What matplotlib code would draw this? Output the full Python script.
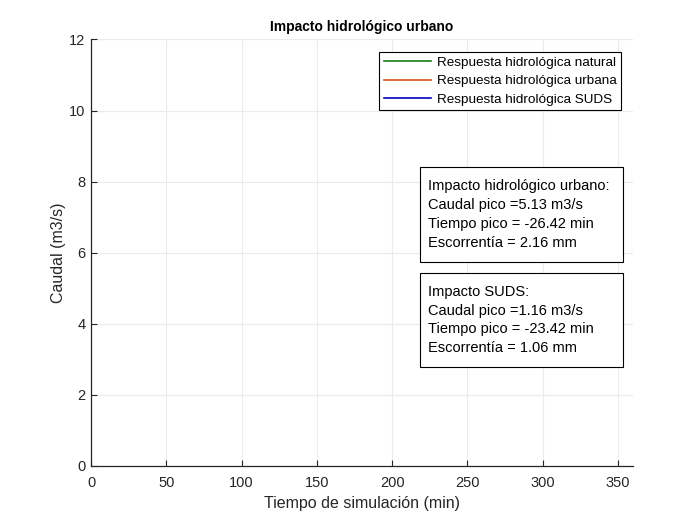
import matplotlib
matplotlib.use("Agg")
import matplotlib.pyplot as plt
from matplotlib.patches import Rectangle

plt.rcParams['font.family'] = ['Liberation Sans', 'DejaVu Sans']

title = "Impacto hidrológico urbano"
xlabel = "Tiempo de simulación (min)"
ylabel = "Caudal (m3/s)"
series_names = ["Respuesta hidrológica natural", "Respuesta hidrológica urbana", "Respuesta hidrológica SUDS"]
series_colors = ["#1a7a1a", "#D95319", "#0000CC"]
xticks = [0, 50, 100, 150, 200, 250, 300, 350]
yticks = [0, 2, 4, 6, 8, 10, 12]
box1_lines = ["Impacto hidrológico urbano:", "Caudal pico =5.13 m3/s",
              "Tiempo pico = -26.42 min", "Escorrentía = 2.16 mm"]
box2_lines = ["Impacto SUDS:", "Caudal pico =1.16 m3/s",
              "Tiempo pico = -23.42 min", "Escorrentía = 1.06 mm"]

fig = plt.figure(figsize=(7, 5.25), dpi=100)
ax = fig.add_axes([0.13, 0.1124, 0.7743, 0.8124])

for name, c in zip(series_names, series_colors):
    ax.plot([], [], color=c, lw=1.2, label=name)

ax.set_xlim(0, 360)
ax.set_ylim(0, 12)
ax.set_xticks(xticks)
ax.set_yticks(yticks)
ax.grid(True, color='#ebebeb', lw=0.8)
ax.set_axisbelow(True)
for s in ['top', 'right']:
    ax.spines[s].set_visible(False)
for s in ['left', 'bottom']:
    ax.spines[s].set_color('#262626')
    ax.spines[s].set_linewidth(0.9)
ax.tick_params(direction='in', length=4, labelsize=10.5, colors='#262626')
ax.tick_params(axis='x', pad=7.5)
ax.tick_params(axis='y', pad=4)

ax.set_title(title, fontsize=10, fontweight='bold', pad=6)
ax.set_xlabel(xlabel, fontsize=11.5, color='#262626', labelpad=4)
ax.set_ylabel(ylabel, fontsize=11.5, color='#262626', labelpad=2)

leg = ax.legend(loc='upper right', bbox_to_anchor=(0.978, 0.971), fontsize=9.7,
                frameon=True, fancybox=False, edgecolor='black', framealpha=1,
                handlelength=3.5, handletextpad=0.45, borderpad=0.33,
                labelspacing=0.45, borderaxespad=0)
leg.get_frame().set_linewidth(0.8)

def draw_box(y0, y1, lines):
    ax.add_patch(Rectangle((0.607, y0), 0.3745, y1 - y0, transform=ax.transAxes,
                           facecolor='white', edgecolor='black', lw=0.8, zorder=5))
    ax.text(0.622, (y0 + y1) / 2, "\n".join(lines), transform=ax.transAxes,
            ha='left', va='center', fontsize=10.5, linespacing=1.43, zorder=6)

draw_box(0.478, 0.701, box1_lines)
draw_box(0.232, 0.4525, box2_lines)

fig.savefig("out.png", dpi=100)
